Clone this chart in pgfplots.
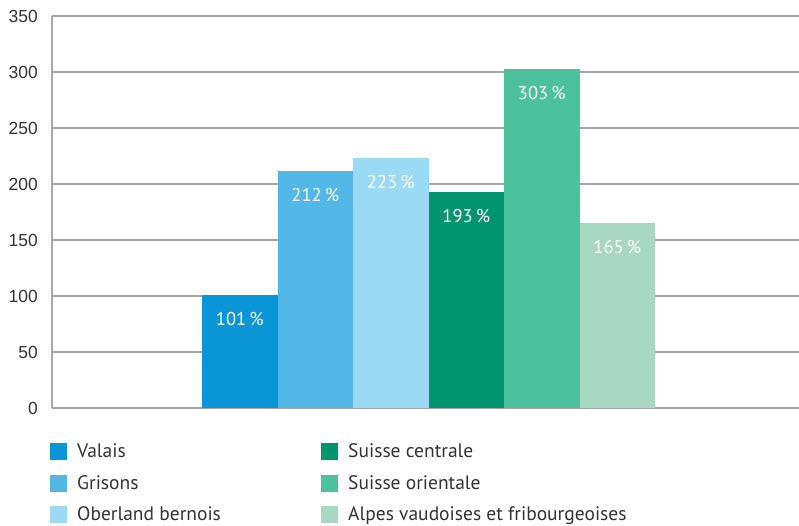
\documentclass[border=0pt]{standalone}
\usepackage{pgfplots}
\pgfplotsset{compat=1.18}
\usepackage{fontspec}
\setmainfont{PT Sans}
\newfontfamily\tickfont{Liberation Sans}
\definecolor{cVal}{HTML}{0A95D6}
\definecolor{cGri}{HTML}{52B6E6}
\definecolor{cObe}{HTML}{9ADAF5}
\definecolor{cCen}{HTML}{00956E}
\definecolor{cOri}{HTML}{4BC19C}
\definecolor{cAlp}{HTML}{A8D8C3}
\definecolor{gridc}{HTML}{A6A6A6}
\definecolor{txt}{HTML}{333333}
\begin{document}
\begin{tikzpicture}
\begin{axis}[
  at={(0pt,0pt)}, anchor=south west,
  width=747pt, height=392pt, scale only axis,
  xmin=-2.487, xmax=7.407, ymin=0, ymax=350,
  ybar, bar width=1, /pgf/bar shift=0pt,
  xtick=\empty,
  ytick={0,50,...,350},
  ymajorgrids, grid style={gridc, line width=1.3pt},
  axis x line*=bottom, axis y line*=left,
  axis line style={gridc, line width=1.3pt},
  major tick length=0pt,
  /pgf/number format/assume math mode=true,
  yticklabel style={font=\tickfont\fontsize{17.5}{20}\selectfont, text=txt, anchor=east, inner sep=0pt, xshift=-14pt},
  nodes near coords={\pgfmathprintnumber{\pgfplotspointmeta}\,\%},
  every node near coord/.append style={anchor=center, yshift=-24pt, text=white, font=\fontsize{18.5}{21}\selectfont},
  legend columns=2,
  legend cell align=left,
  legend image code/.code={\fill[#1] (0pt,-8pt) rectangle (17pt,9pt);},
  legend style={at={(axis description cs:0,0)}, anchor=north west, xshift=-2pt, yshift=-35pt,
    draw=none, inner sep=0pt, row sep=14pt, column sep=10pt,
    /tikz/every even column/.append style={column sep=14pt},
    nodes={inner sep=0pt, text height=14pt, text depth=3pt, text=txt, font=\fontsize{19.5}{22}\selectfont}},
]
\addplot[fill=cVal, draw=none] coordinates {(0,101)};
\addlegendentry{\makebox[230pt][l]{Valais}}
\addplot[fill=cCen, draw=none] coordinates {(3,193)};
\addlegendentry{Suisse centrale}
\addplot[fill=cGri, draw=none] coordinates {(1,212)};
\addlegendentry{\makebox[230pt][l]{Grisons}}
\addplot[fill=cOri, draw=none] coordinates {(4,303)};
\addlegendentry{Suisse orientale}
\addplot[fill=cObe, draw=none] coordinates {(2,223)};
\addlegendentry{\makebox[230pt][l]{Oberland bernois}}
\addplot[fill=cAlp, draw=none] coordinates {(5,165)};
\addlegendentry{Alpes vaudoises et fribourgeoises}
\end{axis}
\pgfresetboundingbox
\path (-52pt,-118pt) rectangle (747pt,408pt);
\end{tikzpicture}
\end{document}
